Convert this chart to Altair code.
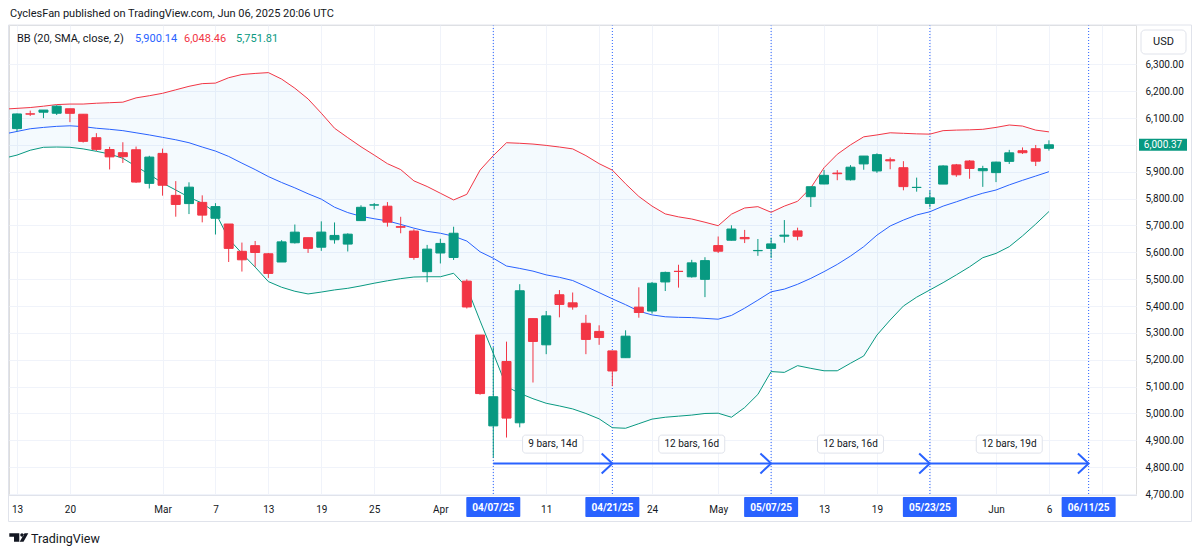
import json
import altair as alt
import pandas as pd

FONT = "Roboto"
TEXT = "#131722"
GREEN = "#089981"
RED = "#f23645"
BLUE = "#2962ff"
GRID = "#f0f3fa"
FRAME = "#e0e3eb"

# ---------------- data ----------------
dates = [
    "02-13", "02-14", "02-18", "02-19", "02-20", "02-21", "02-24", "02-25", "02-26", "02-27", "02-28",
    "03-03", "03-04", "03-05", "03-06", "03-07", "03-10", "03-11", "03-12", "03-13", "03-14",
    "03-17", "03-18", "03-19", "03-20", "03-21", "03-24", "03-25", "03-26", "03-27", "03-28", "03-31",
    "04-01", "04-02", "04-03", "04-04", "04-07", "04-08", "04-09", "04-10", "04-11", "04-14",
    "04-15", "04-16", "04-17", "04-21", "04-22", "04-23", "04-24", "04-25", "04-28", "04-29", "04-30",
    "05-01", "05-02", "05-05", "05-06", "05-07", "05-08", "05-09", "05-12", "05-13", "05-14",
    "05-15", "05-16", "05-19", "05-20", "05-21", "05-22", "05-23", "05-27", "05-28", "05-29", "05-30",
    "06-02", "06-03", "06-04", "06-05", "06-06",
]
opens = [
    6060.6, 6115.5, 6121.6, 6117.8, 6134.5, 6114.1, 6026.7, 5982.7, 5970.9, 5981.9, 5856.7,
    5968.3, 5812.0, 5781.4, 5785.9, 5726.8, 5705.4, 5603.7, 5624.8, 5594.5, 5563.9,
    5635.6, 5654.5, 5619.0, 5646.9, 5630.7, 5718.1, 5775.9, 5771.7, 5695.6, 5679.2, 5527.9,
    5597.5, 5580.8, 5492.7, 5292.1, 4953.8, 5193.6, 4965.3, 5353.2, 5255.6, 5442.0,
    5412.0, 5335.8, 5305.5, 5232.9, 5207.7, 5395.9, 5381.4, 5489.7, 5529.2, 5508.9, 5499.4,
    5625.1, 5645.0, 5655.3, 5605.9, 5614.6, 5660.0, 5679.7, 5807.1, 5854.3, 5895.0,
    5870.1, 5929.1, 5902.9, 5944.7, 5915.0, 5841.3, 5781.9, 5854.1, 5925.6, 5939.9, 5903.7,
    5896.7, 5938.6, 5978.2, 5985.7, 5987.1,
]
highs = [
    6116.9, 6127.5, 6129.6, 6147.4, 6134.5, 6114.8, 6043.6, 5992.7, 6009.8, 5993.7, 5959.4,
    5986.1, 5865.1, 5860.6, 5812.1, 5783.0, 5705.4, 5636.3, 5642.2, 5597.8, 5645.3,
    5703.5, 5654.5, 5715.3, 5711.2, 5670.8, 5775.1, 5783.6, 5787.0, 5732.3, 5685.9, 5627.6,
    5650.6, 5695.3, 5499.5, 5292.1, 5246.6, 5267.5, 5481.3, 5353.2, 5381.5, 5459.5,
    5450.4, 5367.2, 5328.3, 5232.9, 5309.6, 5469.7, 5489.4, 5528.1, 5553.7, 5572.0, 5581.8,
    5658.9, 5700.7, 5683.4, 5649.6, 5654.4, 5720.1, 5691.7, 5844.2, 5906.6, 5906.0,
    5924.6, 5958.6, 5968.6, 5953.1, 5939.3, 5878.1, 5829.5, 5924.0, 5929.0, 5943.1, 5922.1,
    5937.4, 5981.4, 5990.5, 5999.7, 6016.9,
]
lows = [
    6051.0, 6107.6, 6099.5, 6111.2, 6084.6, 6008.6, 5977.4, 5908.5, 5932.7, 5858.8, 5837.7,
    5810.9, 5732.6, 5742.4, 5711.6, 5666.3, 5564.0, 5528.4, 5546.1, 5504.7, 5563.9,
    5632.6, 5597.8, 5605.4, 5632.3, 5603.1, 5718.1, 5759.6, 5695.6, 5670.9, 5572.4, 5488.7,
    5558.5, 5571.5, 5390.8, 5069.9, 4835.0, 4910.4, 4948.4, 5115.3, 5220.8, 5358.0,
    5386.4, 5220.8, 5255.6, 5101.6, 5207.7, 5356.6, 5372.0, 5455.9, 5468.6, 5505.7, 5433.2,
    5597.4, 5644.0, 5634.5, 5586.9, 5578.6, 5635.9, 5644.7, 5768.8, 5853.5, 5868.4,
    5867.4, 5907.4, 5895.7, 5909.3, 5830.9, 5825.8, 5767.4, 5854.1, 5881.0, 5873.8, 5843.7,
    5861.4, 5929.0, 5966.1, 5921.2, 5978.6,
]
closes = [
    6115.1, 6114.6, 6129.6, 6144.2, 6117.5, 6013.1, 5983.3, 5955.3, 5956.1, 5861.6, 5954.5,
    5849.7, 5778.2, 5842.6, 5738.5, 5770.2, 5614.6, 5572.1, 5599.3, 5521.5, 5638.9,
    5675.1, 5614.7, 5675.3, 5662.9, 5667.6, 5767.6, 5776.7, 5712.2, 5693.3, 5580.9, 5611.9,
    5633.1, 5671.0, 5396.5, 5074.1, 5062.3, 4982.8, 5456.9, 5268.1, 5363.4, 5406.0,
    5396.6, 5275.7, 5282.7, 5158.2, 5287.8, 5375.9, 5484.8, 5525.2, 5528.8, 5560.8, 5569.1,
    5604.1, 5686.7, 5650.4, 5606.9, 5631.3, 5663.9, 5659.9, 5844.2, 5886.6, 5892.6,
    5916.9, 5958.4, 5963.6, 5940.5, 5844.6, 5842.0, 5802.8, 5921.5, 5888.6, 5912.2, 5911.7,
    5935.9, 5970.4, 5970.8, 5939.3, 6000.37,
]

# Bollinger bands as drawn (first value belongs to the bar just left of the view)
band_index = list(range(-1, 79))
bb_upper = [
    6133, 6136, 6139, 6144, 6150, 6152, 6152, 6155, 6157, 6159, 6175, 6183, 6192, 6205, 6218, 6228,
    6230, 6250, 6262, 6266, 6269, 6245, 6211, 6171, 6118, 6062, 6027, 5993, 5962, 5930, 5908,
    5866, 5845, 5820, 5795, 5816, 5906, 5960, 6008, 6006, 6003, 5998, 5992, 5985, 5960, 5930,
    5906, 5855, 5808, 5772, 5743, 5732, 5724, 5712, 5699, 5742, 5765, 5770, 5749, 5772, 5790,
    5840, 5915, 5965, 6000, 6030, 6037, 6045, 6043, 6041, 6040, 6053, 6055, 6056, 6058, 6065,
    6074, 6070, 6055, 6048.46,
]
bb_basis = [
    6040, 6050, 6060, 6065, 6069, 6071, 6068, 6062, 6058, 6053, 6045, 6037, 6028, 6019, 6008, 5992,
    5977, 5957, 5932, 5908, 5882, 5860, 5840, 5818, 5798, 5768, 5748, 5734, 5725, 5717, 5704,
    5690, 5678, 5671, 5660, 5642, 5602, 5578, 5549, 5540, 5530, 5516, 5507, 5495, 5473, 5450,
    5427, 5405, 5381, 5367, 5360, 5358, 5357, 5354, 5351, 5365, 5392, 5422, 5453, 5463, 5481,
    5503, 5528, 5555, 5586, 5621, 5664, 5698, 5720, 5739, 5751, 5772, 5788, 5805, 5820, 5832,
    5851, 5868, 5884, 5900.14,
]
bb_lower = [
    5950, 5962, 5980, 5991, 5992, 5991, 5985, 5976, 5966, 5950, 5920, 5890, 5858, 5832, 5805, 5783,
    5748, 5650, 5596, 5545, 5491, 5470, 5455, 5445, 5452, 5460, 5466, 5475, 5485, 5494, 5502,
    5508, 5509, 5509, 5522, 5470, 5345, 5224, 5100, 5075, 5055, 5038, 5028, 5017, 5000, 4980,
    4947, 4945, 4962, 4979, 4986, 4990, 4994, 5000, 5001, 4986, 5022, 5071, 5156, 5153, 5178,
    5168, 5159, 5159, 5187, 5214, 5292, 5348, 5400, 5433, 5460, 5487, 5516, 5546, 5580, 5596,
    5621, 5661, 5705, 5751.81,
]

tick_index = [0, 4, 11, 15, 19, 23, 27, 32, 36, 40, 44, 48, 53, 57, 61, 65, 69, 74, 78, 82]
tick_labels = ["13", "20", "Mar", "7", "13", "19", "25", "Apr", "", "11", "", "24", "May", "",
               "13", "19", "", "Jun", "6", ""]
price_ticks = list(range(4700, 6301, 100))

cycle_index = [36, 45, 57, 69, 81]
cycle_labels = ["04/07/25", "04/21/25", "05/07/25", "05/23/25", "06/11/25"]
span_labels = ["9 bars, 14d", "12 bars, 16d", "12 bars, 16d", "12 bars, 19d"]
arrow_price = 4814
span_label_price = 4886

header_text = "CyclesFan published on TradingView.com, Jun 06, 2025 20:06 UTC"
bb_title = "BB (20, SMA, close, 2)"

# ---------------- layout ----------------
W, H = 1127, 470
X_MIN, X_MAX = -0.605, 84.58
Y_MIN, Y_MAX = 4696.5, 6446.3

candles = pd.DataFrame({"i": list(range(len(dates))), "date": dates, "o": opens,
                        "h": highs, "l": lows, "c": closes})
candles["dir"] = ["up" if c >= o else "down" for o, c in zip(opens, closes)]
bands = pd.DataFrame({"i": band_index, "upper": bb_upper, "basis": bb_basis, "lower": bb_lower})
cycles = pd.DataFrame({"i": cycle_index, "label": cycle_labels})
arrow = pd.DataFrame({"i0": [cycle_index[0]], "i1": [cycle_index[-1]], "p": [arrow_price]})
heads = pd.DataFrame({"i": cycle_index[1:], "p": [arrow_price] * (len(cycle_index) - 1)})
last = pd.DataFrame({"p": [closes[-1]]})
one = pd.DataFrame({"k": [0]})

x_scale = alt.Scale(domain=[X_MIN, X_MAX], nice=False, zero=False, padding=0)
y_scale = alt.Scale(domain=[Y_MIN, Y_MAX], nice=False, zero=False, padding=0)
label_expr = f"{json.dumps(tick_labels)}[indexof({json.dumps(tick_index)}, datum.value)]"
x_axis = alt.Axis(values=tick_index, labelExpr=label_expr, title=None, grid=True, gridColor=GRID,
                  ticks=False, domain=True, domainColor=FRAME, labelPadding=14,
                  labelBaseline="middle", labelFontSize=10, labelColor=TEXT, labelFont=FONT,
                  labelFlush=False, labelOverlap=False, labelAngle=0)
y_axis = alt.Axis(orient="right", values=price_ticks, format=",.2f", title=None, grid=True,
                  gridColor=GRID, ticks=False, domain=False, labelPadding=9, labelFontSize=10,
                  labelColor=TEXT, labelFont=FONT, labelFlush=False, labelOverlap=False)


def X(f):
    return alt.X(f"{f}:Q", scale=x_scale, axis=x_axis)


def Y(f):
    return alt.Y(f"{f}:Q", scale=y_scale, axis=y_axis)


dir_scale = alt.Scale(domain=["up", "down"], range=[GREEN, RED])

layers = []
layers.append(alt.Chart(bands).mark_area(color="#2196f3", opacity=0.05, clip=True).encode(
    x=X("i"), y=Y("upper"), y2=alt.Y2("lower")))
layers.append(alt.Chart(cycles).mark_rule(color=BLUE, strokeWidth=1, strokeDash=[1, 2]).encode(
    x=X("i"), y=alt.value(0), y2=alt.value(H)))
for col, colr in [("upper", RED), ("basis", BLUE), ("lower", GREEN)]:
    layers.append(alt.Chart(bands).mark_line(color=colr, strokeWidth=1, clip=True).encode(
        x=X("i"), y=Y(col)))
layers.append(alt.Chart(candles).mark_rule(strokeWidth=1).encode(
    x=X("i"), y=Y("l"), y2=alt.Y2("h"),
    color=alt.Color("dir:N", scale=dir_scale, legend=None)))
layers.append(alt.Chart(candles).mark_bar(size=9, strokeWidth=1).encode(
    x=X("i"), y=Y("o"), y2=alt.Y2("c"),
    color=alt.Color("dir:N", scale=dir_scale, legend=None),
    stroke=alt.Stroke("dir:N", scale=dir_scale, legend=None)))

# cycle arrows
layers.append(alt.Chart(arrow).mark_rule(color=BLUE, strokeWidth=2).encode(
    x=X("i0"), x2=alt.X2("i1"), y=Y("p")))
layers.append(alt.Chart(heads).mark_point(shape="M -1.07 -1 L 0 0 L -1.07 1", filled=False,
                                          size=400, strokeWidth=2, color=BLUE, opacity=1).encode(
    x=X("i"), y=Y("p")))
for k, t in enumerate(span_labels):
    mid = (cycle_index[k] + cycle_index[k + 1]) / 2
    d = pd.DataFrame({"mid": [mid], "p": [span_label_price], "t": [t]})
    half = 5.5 * len(t) / 2
    layers.append(alt.Chart(d).mark_rect(fill="white", stroke=FRAME, strokeWidth=1, cornerRadius=3,
                                         xOffset=-half, x2Offset=half, yOffset=-9, y2Offset=9).encode(
        x=X("mid"), x2=alt.X2("mid"), y=Y("p"), y2=alt.Y2("p")))
    layers.append(alt.Chart(d).mark_text(font=FONT, fontSize=10, color=TEXT).encode(
        x=X("mid"), y=Y("p"), text="t:N"))

# highlighted date labels
layers.append(alt.Chart(cycles).mark_rect(color=BLUE, xOffset=-27, x2Offset=27, cornerRadius=1).encode(
    x=X("i"), x2=alt.X2("i"), y=alt.value(472), y2=alt.value(492)))
layers.append(alt.Chart(cycles).mark_text(font=FONT, fontSize=10, fontWeight="bold", color="white").encode(
    x=X("i"), y=alt.value(483), text="label:N"))

# last price label
layers.append(alt.Chart(last).mark_rect(color=GREEN, yOffset=-6, y2Offset=6).encode(
    x=alt.value(1130), x2=alt.value(1178), y=Y("p"), y2=alt.Y2("p")))
layers.append(alt.Chart(last).mark_text(font=FONT, fontSize=10, color="white").encode(
    x=alt.value(1154), y=Y("p"), text=alt.Text("p:Q", format=",.2f")))

# header + legend
layers.append(alt.Chart(one).mark_text(text=header_text, font=FONT, fontSize=11, color=TEXT,
                                       align="left", baseline="middle").encode(
    x=alt.value(1), y=alt.value(-11)))
legend_parts = [(bb_title, TEXT, 8), (f"{bb_basis[-1]:,.2f}", BLUE, 126),
                (f"{bb_upper[-1]:,.2f}", RED, 175), (f"{bb_lower[-1]:,.2f}", GREEN, 227)]
for txt, colr, xpos in legend_parts:
    layers.append(alt.Chart(one).mark_text(text=txt, font=FONT, fontSize=11, color=colr,
                                           align="left", baseline="middle").encode(
        x=alt.value(xpos), y=alt.value(14)))

# USD box
layers.append(alt.Chart(one).mark_rect(fill="white", stroke=FRAME, strokeWidth=1, cornerRadius=4).encode(
    x=alt.value(1132), x2=alt.value(1177), y=alt.value(5), y2=alt.value(29)))
layers.append(alt.Chart(one).mark_text(text="USD", font=FONT, fontSize=11, color=TEXT,
                                       align="center", baseline="middle").encode(
    x=alt.value(1154.5), y=alt.value(17)))

# frame
layers.append(alt.Chart(one).mark_rect(fillOpacity=0, stroke=FRAME, strokeWidth=1).encode(
    x=alt.value(-0.5), x2=alt.value(1182.5), y=alt.value(0), y2=alt.value(496.5)))

# logo
logo_path = ("M -9.5 -4.2 L 0.5 -4.2 L 0.5 4.2 L -4.8 4.2 L -4.8 -0.8 L -9.5 -0.8 Z "
             "M 1.5 -2.5 A 1.7 1.7 0 1 0 4.9 -2.5 A 1.7 1.7 0 1 0 1.5 -2.5 Z "
             "M 5.7 -4.2 L 9.5 -4.2 L 4.7 4.2 L 0.9 4.2 Z")
layers.append(alt.Chart(one).mark_point(shape=logo_path, filled=True, size=4, color=TEXT, opacity=1).encode(
    x=alt.value(9.8), y=alt.value(512.5)))
layers.append(alt.Chart(one).mark_text(text="TradingView", font=FONT, fontSize=12.5, color=TEXT,
                                       align="left", baseline="middle").encode(
    x=alt.value(22), y=alt.value(513.5)))

chart = alt.layer(*layers).properties(
    width=W, height=H,
    autosize=alt.AutoSizeParams(type="none"),
    padding={"left": 1, "top": 17, "right": 56, "bottom": 52},
    background="white",
).configure_view(strokeWidth=0).configure(font=FONT)

chart.save("out.html", embed_options={"renderer": "svg", "actions": False})
